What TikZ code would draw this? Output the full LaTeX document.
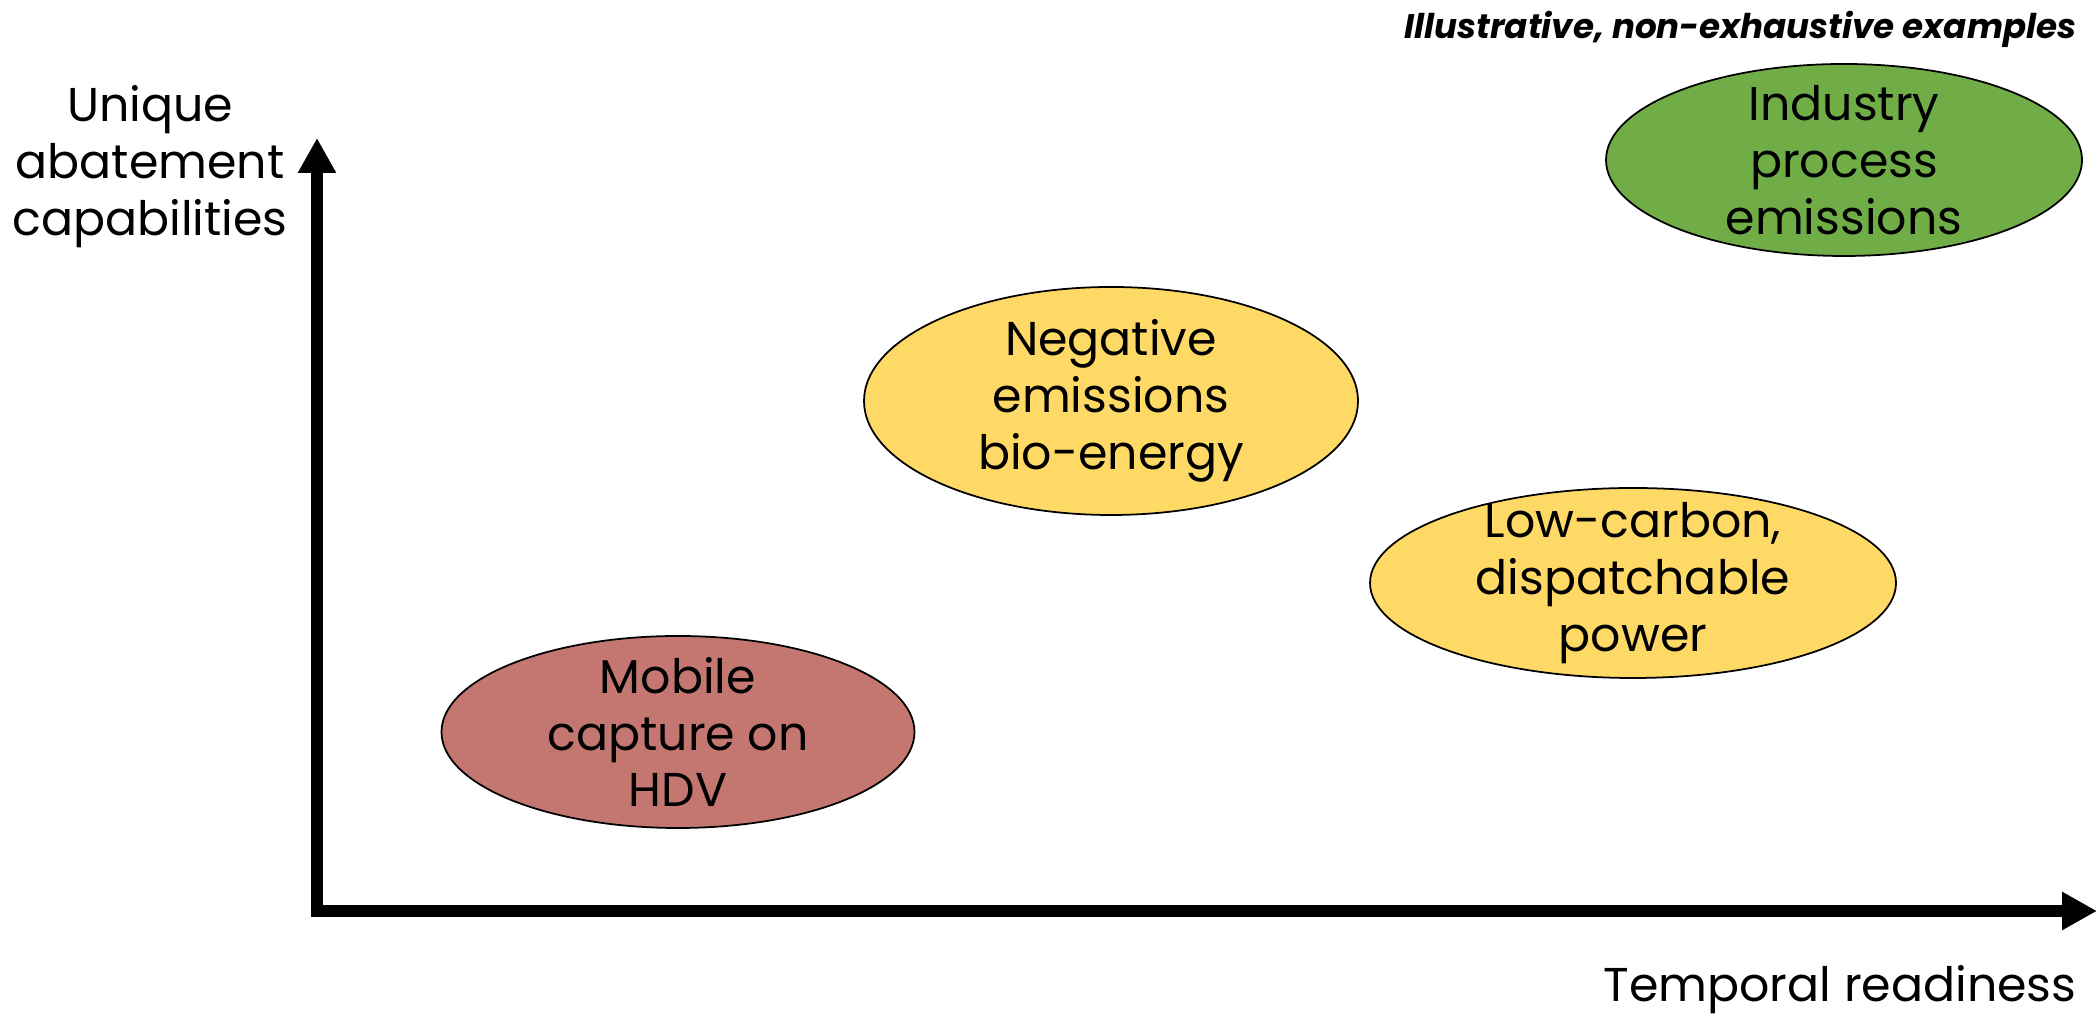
\documentclass[tikz,border=0pt]{standalone}
\usepackage{fontspec}
\setmainfont{Poppins}
\usetikzlibrary{arrows.meta,positioning,shapes.geometric}
\definecolor{cgreen}{RGB}{112,173,71}
\definecolor{cyellow}{RGB}{255,217,102}
\definecolor{cred}{RGB}{196,119,113}

\begin{document}
\begin{tikzpicture}[
    font=\fontsize{13.5}{16.2}\selectfont,
    blob/.style={ellipse,draw,line width=0.5pt,inner xsep=0pt,inner ysep=-4pt,align=center},
    axis/.style={-{Triangle[length=3.5mm,width=3.6mm]},line width=3.4pt}
  ]
    \useasboundingbox (0,0) rectangle (20.97,10.17);
    % axes
    \coordinate (origin) at (3.17,1.06);
    \coordinate (xstart) at (3.11,1.06);
    \coordinate (ystart) at (3.17,1.00);
    \coordinate (xtip) at (20.97,1.06);
    \coordinate (ytip) at (3.17,8.79);
    \draw[axis] (ystart) -- (ytip);
    \draw[axis] (xstart) -- (xtip);
    \node[align=center] (ylab) at (1.50,8.50) {Unique\\abatement\\capabilities};
    \node[anchor=east,inner sep=0pt] (xlab) at (20.77,0.27) {Temporal readiness};
    \node[anchor=east,inner sep=0pt,font=\fontsize{9.7}{11}\selectfont\bfseries\itshape] (note) at (20.77,9.88) {Illustrative, non-exhaustive examples};
    % examples
    \node[blob,fill=cgreen,minimum width=4.76cm,minimum height=1.92cm] (industry) at (18.44,8.57) {Industry\\process\\emissions};
    \node[blob,fill=cyellow,minimum width=4.94cm,minimum height=2.28cm] (beccs) at (11.11,6.16) {Negative\\emissions\\bio-energy};
    \node[blob,fill=cyellow,minimum width=5.26cm,minimum height=1.90cm] (power) at (16.33,4.34) {Low-carbon,\\dispatchable\\power};
    \node[blob,fill=cred,minimum width=4.73cm,minimum height=1.92cm] (mobile) at (6.78,2.85) {Mobile\\capture on\\HDV};
  \end{tikzpicture}
\end{document}
